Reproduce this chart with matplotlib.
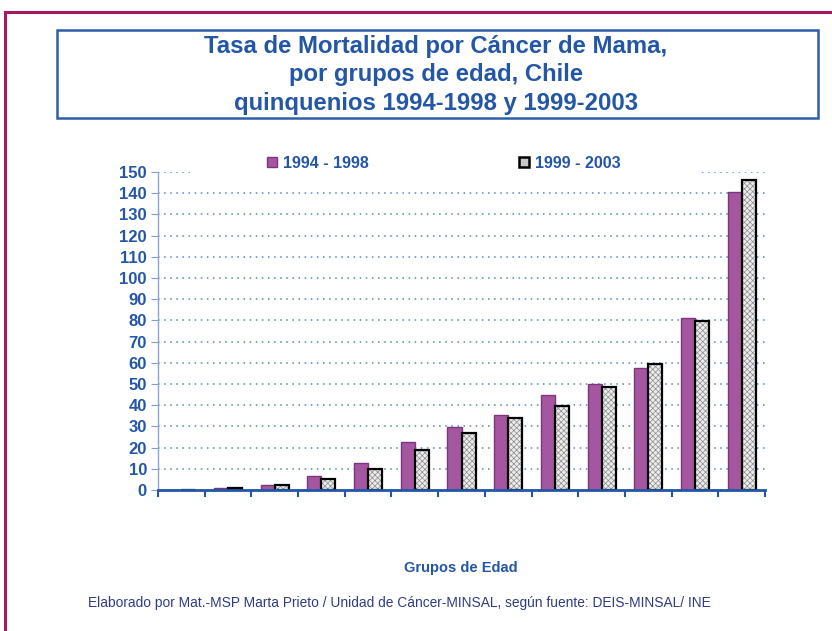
import matplotlib.pyplot as plt
from matplotlib.patches import Patch, Rectangle
from matplotlib.lines import Line2D
import numpy as np

plt.rcParams['font.family'] = ['Liberation Sans', 'DejaVu Sans']
plt.rcParams['hatch.linewidth'] = 0.5

# ---------------- DATA ----------------
age_groups = list(range(13))  # grupos de edad sin etiqueta en el original
rate_1994_1998 = [0.1, 0.8, 2.4, 6.6, 12.6, 22.8, 29.6, 35.4, 44.8, 50.0, 57.5, 81.0, 140.7]
rate_1999_2003 = [0.1, 0.8, 2.2, 5.0, 10.0, 18.9, 27.0, 33.8, 39.6, 48.7, 59.4, 79.6, 146.0]
series_labels = ["1994 - 1998", "1999 - 2003"]
y_ticks = list(range(0, 151, 10))

# ---------------- COLORS ----------------
BLUE = "#2356a6"
PURPLE = "#a4579f"
PURPLE_EDGE = "#7b3580"
MAGENTA = "#a8185e"
NAVY = "#2f3c84"

fig = plt.figure(figsize=(8.32, 6.31), dpi=100)

# outer frame (left and top edges only visible)
fig.add_artist(Line2D([5 / 832, 5 / 832], [0, 1 - 12 / 631], color=MAGENTA, lw=2.2))
fig.add_artist(Line2D([5 / 832, 1], [1 - 12 / 631, 1 - 12 / 631], color=MAGENTA, lw=2.2))

# title box
fig.add_artist(Rectangle((57 / 832, 1 - 118 / 631), 761 / 832, 88 / 631,
                         fill=False, edgecolor="#2e5ea8", lw=1.8))
fig.text(436 / 832, 1 - 75 / 631,
         "Tasa de Mortalidad por Cáncer de Mama,\npor grupos de edad, Chile\nquinquenios 1994-1998 y 1999-2003",
         ha="center", va="center", fontsize=17.2, fontweight="bold", color=BLUE, linespacing=1.33)

# ---------------- AXES ----------------
ax = fig.add_axes([158 / 832, 1 - 490 / 631, 607 / 832, 318 / 631])
x = np.array(age_groups)
w = 0.3

ax.bar(x - w / 2, rate_1994_1998, width=w, color=PURPLE, edgecolor=PURPLE_EDGE, lw=1.0, zorder=3)
ax.bar(x + w / 2, rate_1999_2003, width=w, color="#ececec", edgecolor="#8c8c8c", hatch="xxxxxx", lw=0, zorder=3)
ax.bar(x + w / 2, rate_1999_2003, width=w, fill=False, edgecolor="black", lw=1.6, zorder=4)

ax.set_xlim(-0.5, 12.5)
ax.set_ylim(0, 150)
ax.set_yticks(y_ticks)
ax.set_xticks(np.arange(-0.5, 13, 1))
ax.set_xticklabels([])
ax.tick_params(axis="y", direction="out", length=5, color="#7f9fd0", labelsize=12,
               labelcolor=BLUE, pad=3)
ax.tick_params(axis="x", direction="out", length=5, width=1.5, color=BLUE)
for lab in ax.get_yticklabels():
    lab.set_fontweight("bold")

ax.yaxis.grid(True, linestyle=(0, (1, 3)), color="#4f86d0", lw=1.1, zorder=0)
ax.set_axisbelow(True)
for s in ["top", "right"]:
    ax.spines[s].set_visible(False)
ax.spines["left"].set_color("#8aa6d6")
ax.spines["left"].set_linewidth(1.0)
ax.spines["bottom"].set_color(BLUE)
ax.spines["bottom"].set_linewidth(2.0)
ax.spines["bottom"].set_zorder(5)

# white area behind legend (hides part of top gridline)
ax.add_patch(Rectangle(((190 - 158) / 607, (490 - 176) / 318), 510 / 607, 28 / 318,
                       transform=ax.transAxes, facecolor="white", edgecolor="none",
                       zorder=1, clip_on=False))

handles = [
    Patch(facecolor=PURPLE, edgecolor=PURPLE_EDGE, lw=1.0),
    Patch(facecolor="#c8c8c8", edgecolor="black", lw=1.8),
]
leg = ax.legend(handles, series_labels, ncol=2, loc="center", frameon=False,
                bbox_to_anchor=((444 - 158) / 607, (490 - 163) / 318),
                prop={"weight": "bold", "size": 11.5}, handlelength=0.6, handleheight=0.6,
                handletextpad=0.4, columnspacing=9.4)
for t in leg.get_texts():
    t.set_color(BLUE)

fig.text(461 / 832, 1 - 568 / 631, "Grupos de Edad", ha="center", va="center",
         fontsize=10.5, fontweight="bold", color=BLUE)
fig.text(88 / 832, 1 - 603 / 631,
         "Elaborado por Mat.-MSP Marta Prieto / Unidad de Cáncer-MINSAL, según fuente: DEIS-MINSAL/ INE",
         ha="left", va="center", fontsize=9.9, color=NAVY)

fig.savefig("out.png", dpi=100)
